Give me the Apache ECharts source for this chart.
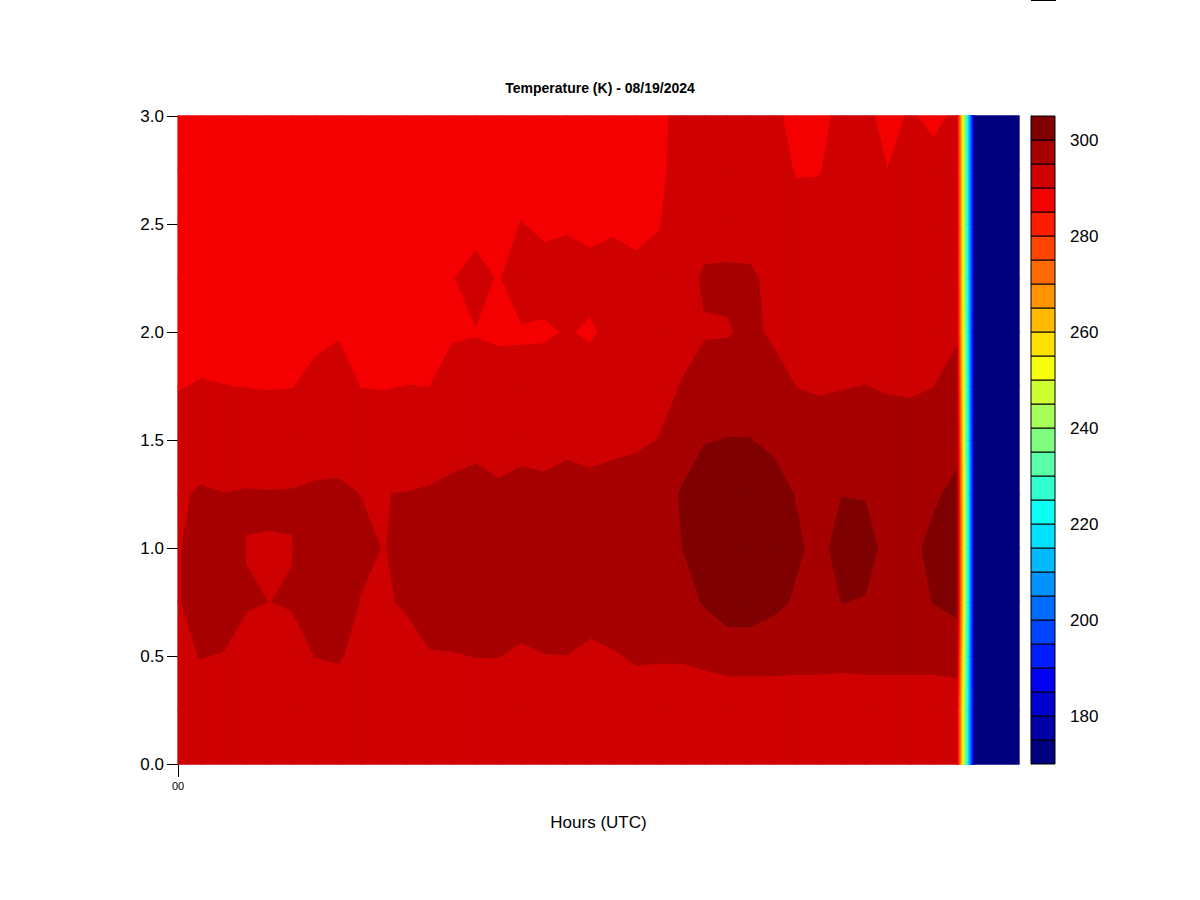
<!DOCTYPE html>
<html>
<head>
<meta charset="utf-8">
<script src="https://cdn.jsdelivr.net/npm/echarts@6/dist/echarts.min.js"></script>
<style>
  html, body { margin: 0; padding: 0; background: #ffffff; }
  #chart { width: 1200px; height: 900px; }
</style>
</head>
<body>
<div id="chart"></div>
<script>
// ---------------- data ----------------
const chartTitle = 'Temperature (K) - 08/19/2024';
const xAxisName = 'Hours (UTC)';
// time of each profile (minutes after 00 UTC)
const timesMin = [0, 1.5, 3, 4.5, 6, 7.5, 9, 10.5, 12, 13.5, 15, 16.5, 18, 19.5, 21, 22.5, 24, 25.5,
  27, 28.5, 30, 31.5, 33, 34.5, 36, 37.5, 39, 40.5, 42, 43.5, 45, 46.5, 48, 49.5, 51, 52.2, 55.1];
// heights of each profile level (km)
const heightsKm = [0, 0.25, 0.5, 0.75, 1.0, 1.25, 1.5, 1.75, 2.0, 2.25, 2.5, 2.75, 3.0];
// temperature profiles (K), one per time, bottom to top
const tempProfiles = [
  [292.5, 293, 294.3, 294.6, 294.6, 294.2, 292.5, 289.7, 288.5, 288.3, 288.2, 288, 288],
  [292.5, 293, 295.1, 297, 297, 295.6, 292, 290.3, 288, 288, 288, 288, 288],
  [292.5, 293, 294.8, 297, 296.5, 295.05, 292, 290.05, 288.2, 288, 288, 288, 288],
  [292.5, 293, 294, 295.2, 294.9, 295.3, 292, 289.9, 288.2, 288, 288, 288, 288],
  [292.5, 293, 294, 294.98, 294.9, 295.2, 292, 289.8, 288.2, 288, 288, 288, 288],
  [292.5, 293, 294, 295.2, 294.9, 295.3, 292, 289.9, 288.2, 288, 288, 288, 288],
  [292.5, 293, 295.05, 296.5, 297, 295.8, 292.5, 290.8, 289.3, 288.5, 288.2, 288, 288],
  [292.5, 293, 295.3, 297, 297.5, 296, 292.5, 291.5, 289.7, 288.5, 288.2, 288, 288],
  [292.5, 293, 294, 294.8, 296, 294.9, 292, 289.9, 288.2, 288, 288, 288, 288],
  [292.5, 293, 294, 294.7, 294.8, 294.95, 292, 289.8, 288.2, 288, 288, 288, 288],
  [292.5, 293, 294, 295.3, 296.5, 295.1, 292, 290.02, 288.2, 288, 288, 288, 288],
  [292.5, 293, 294.7, 297, 297, 295.5, 292.3, 289.97, 288.2, 288, 288, 288, 288],
  [292.5, 293, 294.8, 297, 297.5, 296.5, 292.5, 291.5, 289.6, 289.8, 288.5, 288.2, 288],
  [292.5, 293, 295.05, 297.5, 298, 297.5, 293, 291.6, 289.8, 291.5, 288.5, 288.2, 288],
  [292.5, 293, 295.05, 297, 297.5, 296, 292.5, 291.3, 289.5, 289.6, 288.5, 288.2, 288],
  [292.5, 293, 294.5, 296.5, 297.5, 297, 293, 291.5, 289.5, 292.5, 290.1, 288.5, 288],
  [292.5, 293, 294.9, 297, 297.5, 296.5, 292.8, 291.8, 289.5, 291.5, 289.2, 288.5, 288],
  [292.5, 293, 294.95, 297, 298, 297.5, 293.5, 292, 290.2, 291.8, 289.5, 288.5, 288],
  [292.5, 293, 294.5, 296, 297.5, 296.8, 293, 291.8, 289.5, 291.2, 289, 288.5, 288],
  [292.5, 293, 294.7, 297, 298, 297.5, 293.5, 292, 291, 291.5, 289.5, 288.5, 288],
  [292.5, 293, 295.4, 297.5, 298.5, 298, 294, 292.5, 292, 291, 289, 288.5, 288],
  [292.5, 293, 295.3, 297.5, 298.5, 298, 295.1, 293, 292.5, 291.7, 289.7, 288.5, 288],
  [292.5, 293, 295.3, 298, 299.9, 300.3, 298, 295.2, 293.5, 292.5, 292.5, 292.5, 292.5],
  [292.5, 292, 296, 300.4, 302.5, 302, 299.8, 297.5, 294.5, 295.8, 292.5, 292, 292],
  [292.5, 291.5, 297, 302.5, 303, 302.8, 300.1, 298, 294.6, 296, 292.5, 292, 292],
  [292.5, 291.5, 297, 302.5, 303.2, 303, 300.05, 298.5, 296, 295.8, 292.5, 292, 292],
  [292.5, 291.5, 297, 301, 302.5, 301.5, 299.3, 297, 294.2, 293.5, 292.5, 292, 291],
  [292.5, 292, 296.5, 299.5, 300.6, 299.8, 298, 294.9, 293.5, 292.5, 292, 289.6, 288.5],
  [292.5, 292, 296.5, 298.5, 298.8, 298.5, 297, 294.5, 293.5, 292.5, 292, 289.7, 288.8],
  [292.5, 291.5, 296.5, 300.05, 301.5, 299.9, 298, 294.7, 293.5, 292.5, 292.5, 292, 291],
  [292.5, 292, 296.5, 299.8, 301.3, 299.8, 298, 295.05, 293.5, 292.5, 292.5, 292, 291],
  [292.5, 292, 296.5, 298.5, 299, 298.5, 297.5, 294.5, 293.5, 292.5, 292, 290, 288.5],
  [292.5, 292, 296.5, 298.5, 299.2, 298.5, 297, 294.4, 293.5, 292.5, 292.5, 292, 290.5],
  [292.5, 292, 296.5, 300.1, 300.8, 299.5, 297.5, 294.9, 293.5, 292.5, 292.5, 292, 288.5],
  [292.5, 292, 297, 301.2, 301.5, 300.8, 299, 297, 294.2, 293, 292.5, 292, 291],
  [171, 171, 171, 171, 171, 171, 171, 171, 171, 171, 171, 171, 171],
  [171, 171, 171, 171, 171, 171, 171, 171, 171, 171, 171, 171, 171]
];
// contour levels (K) and colour-key tick labels
const contourLevels = [170, 175, 180, 185, 190, 195, 200, 205, 210, 215, 220, 225, 230, 235,
  240, 245, 250, 255, 260, 265, 270, 275, 280, 285, 290, 295, 300, 305];
const keyTicks = [180, 200, 220, 240, 260, 280, 300];
const hourTicks = [0];

// ---------------- styles ----------------
const palette = ['#00007F', '#0000A6', '#0000CE', '#0000F5', '#001DFF', '#0044FF', '#006BFF',
  '#0093FF', '#00BAFF', '#00E1FF', '#0AFFF5', '#31FFCE', '#58FFA7', '#7FFF7F', '#A6FF58',
  '#CEFF31', '#F5FF0A', '#FFE100', '#FFBA00', '#FF9300', '#FF6B00', '#FF4400', '#FF1D00',
  '#F50000', '#CE0000', '#A70000', '#7F0000'];
const FONT = '"Liberation Sans", Arial, Helvetica, sans-serif';

// ---------------- filled contour helpers ----------------
function interp(P, Q, level) {
  const t = (level - P.v) / (Q.v - P.v);
  return { x: P.x + t * (Q.x - P.x), y: P.y + t * (Q.y - P.y), v: level };
}
function clipPoly(poly, level, keepAbove) {
  const out = [];
  const n = poly.length;
  if (n === 0) return out;
  const inside = p => keepAbove ? p.v >= level : p.v < level;
  for (let k = 0; k < n; k++) {
    const P = poly[k], Q = poly[(k + 1) % n];
    const pin = inside(P), qin = inside(Q);
    if (pin && qin) out.push(Q);
    else if (pin && !qin) out.push(interp(P, Q, level));
    else if (!pin && qin) { out.push(interp(P, Q, level)); out.push(Q); }
  }
  return out;
}

const cellData = [];
for (let i = 0; i < timesMin.length - 1; i++) {
  for (let j = 0; j < heightsKm.length - 1; j++) {
    cellData.push([(timesMin[i] + timesMin[i + 1]) / 2, (heightsKm[j] + heightsKm[j + 1]) / 2, i, j]);
  }
}

function renderCell(params, api) {
  const i = api.value(2), j = api.value(3);
  const x0 = timesMin[i], x1 = timesMin[i + 1];
  const y0 = heightsKm[j], y1 = heightsKm[j + 1];
  const corners = [
    { x: x0, y: y0, v: tempProfiles[i][j] },
    { x: x1, y: y0, v: tempProfiles[i + 1][j] },
    { x: x1, y: y1, v: tempProfiles[i + 1][j + 1] },
    { x: x0, y: y1, v: tempProfiles[i][j + 1] }
  ];
  const children = [];
  for (let b = 0; b < palette.length; b++) {
    const lo = contourLevels[b], hi = contourLevels[b + 1];
    let poly = clipPoly(corners, lo, true);
    poly = clipPoly(poly, hi, false);
    if (poly.length >= 3) {
      children.push({
        type: 'polygon',
        silent: true,
        shape: { points: poly.map(p => api.coord([p.x, p.y])) },
        style: { fill: palette[b], stroke: palette[b], lineWidth: 1.3, lineJoin: 'round' }
      });
    }
  }
  return { type: 'group', children: children };
}

const keyData = [];
for (let b = 0; b < palette.length; b++) {
  keyData.push([0.5, (contourLevels[b] + contourLevels[b + 1]) / 2, b]);
}
function renderKey(params, api) {
  const b = api.value(2);
  const p0 = api.coord([0, contourLevels[b + 1]]);
  const p1 = api.coord([1, contourLevels[b]]);
  return {
    type: 'rect',
    silent: true,
    shape: { x: p0[0], y: p0[1], width: p1[0] - p0[0], height: p1[1] - p0[1] },
    style: { fill: palette[b], stroke: '#000000', lineWidth: 1 }
  };
}

const chart = echarts.init(document.getElementById('chart'), null, { renderer: 'svg' });
chart.setOption({
  animation: false,
  backgroundColor: '#ffffff',
  textStyle: { fontFamily: FONT },
  title: {
    text: chartTitle,
    left: 'center',
    top: 81,
    padding: 0,
    textStyle: { fontFamily: FONT, fontSize: 14, fontWeight: 'bold', color: '#000000' }
  },
  grid: [
    { left: 178, top: 116, width: 841, height: 648 },
    { left: 1031, top: 116, width: 24, height: 648 }
  ],
  xAxis: [
    {
      gridIndex: 0, type: 'value', min: 0, max: 55.1,
      name: xAxisName, nameLocation: 'middle', nameGap: 50,
      nameTextStyle: { fontFamily: FONT, fontSize: 17, color: '#000000' },
      axisLine: { show: false },
      axisTick: { show: true, length: 13, customValues: hourTicks, lineStyle: { color: '#000000', width: 1 } },
      axisLabel: { fontFamily: FONT, fontSize: 11, color: '#000000', margin: 16, customValues: hourTicks,
        showMaxLabel: false,
        formatter: v => String(Math.floor(v / 60)).padStart(2, '0') },
      splitLine: { show: false }
    },
    {
      gridIndex: 1, type: 'value', min: 0, max: 1, show: false
    }
  ],
  yAxis: [
    {
      gridIndex: 0, type: 'value', min: 0, max: 3, interval: 0.5,
      axisLine: { show: true, lineStyle: { color: '#000000', width: 1 } },
      axisTick: { show: true, length: 11, lineStyle: { color: '#000000', width: 1 } },
      axisLabel: { fontFamily: FONT, fontSize: 17, color: '#000000', margin: 14,
        formatter: v => v.toFixed(1) },
      splitLine: { show: false }
    },
    {
      gridIndex: 1, type: 'value', min: 170, max: 305, position: 'right',
      axisLine: { show: true, lineStyle: { color: '#000000', width: 1 } },
      axisTick: { show: true, length: 10, customValues: keyTicks, lineStyle: { color: '#000000', width: 1 } },
      axisLabel: { fontFamily: FONT, fontSize: 17, color: '#000000', margin: 15, customValues: keyTicks },
      splitLine: { show: false }
    }
  ],
  series: [
    {
      type: 'custom', xAxisIndex: 0, yAxisIndex: 0,
      renderItem: renderCell, data: cellData, encode: { x: 0, y: 1 }, silent: true
    },
    {
      type: 'custom', xAxisIndex: 1, yAxisIndex: 1,
      renderItem: renderKey, data: keyData, encode: { x: 0, y: 1 }, silent: true
    }
  ],
  graphic: [
    { type: 'rect', shape: { x: 1031, y: 0, width: 25, height: 1 }, style: { fill: '#000000' }, silent: true }
  ]
});
</script>
</body>
</html>
